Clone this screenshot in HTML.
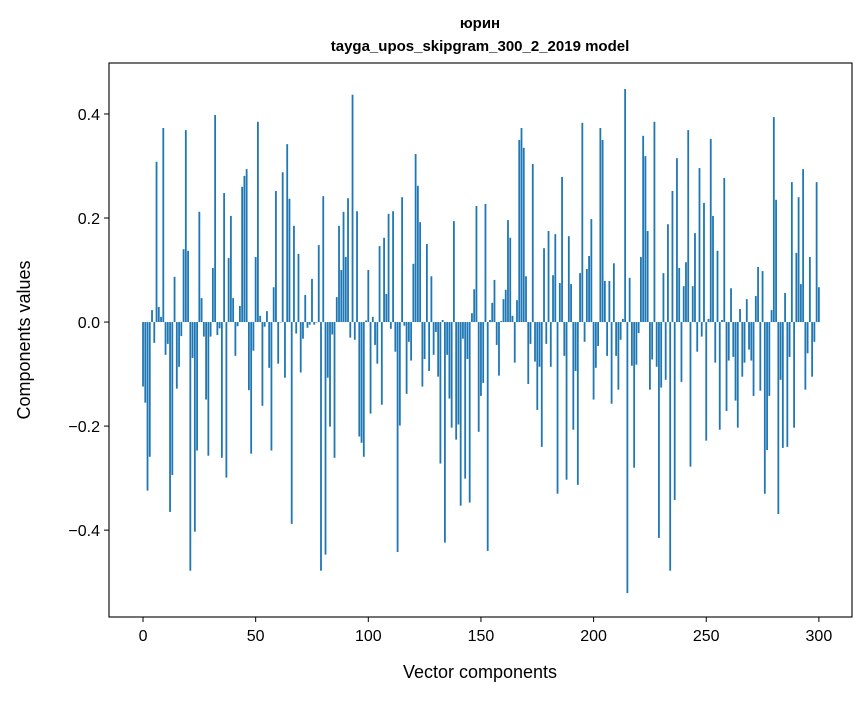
<!DOCTYPE html>
<html><head><meta charset="utf-8"><style>
body{margin:0;background:#fff;}
svg text{font-family:"Liberation Sans","DejaVu Sans",sans-serif;}
</style></head><body>
<svg id="chart" width="867" height="696" viewBox="0 0 867 696" xmlns="http://www.w3.org/2000/svg">
<rect x="0" y="0" width="867" height="696" fill="#fff"/>
<text x="480" y="28" text-anchor="middle" font-size="15" font-weight="bold">юрин</text>
<text x="480" y="51" text-anchor="middle" font-size="15" font-weight="bold">tayga_upos_skipgram_300_2_2019 model</text>
<g id="bars"></g>
<g id="axes"></g>
<text x="480" y="678" text-anchor="middle" font-size="18">Vector components</text>
<text x="30" y="340" text-anchor="middle" font-size="18" transform="rotate(-90 30 340)">Components values</text>
</svg>
<script>
const values = [
-0.124,-0.155,-0.324,-0.259,0.023,-0.04,0.308,0.029,0.01,0.373,-0.063,-0.042,-0.365,-0.294,0.087,-0.128,-0.086,-0.027,0.14,0.369,0.137,-0.478,-0.069,-0.403,-0.247,0.212,0.046,-0.028,-0.149,-0.257,-0.028,0.104,0.398,-0.025,-0.012,-0.261,0.248,-0.299,0.123,0.204,0.046,-0.065,-0.008,0.031,0.26,0.281,0.294,-0.131,-0.253,-0.055,0.125,
0.385,0.012,-0.161,-0.009,0.021,-0.088,-0.247,0.067,0.252,-0.08,-0.001,0.288,-0.107,0.342,0.237,-0.388,0.185,-0.022,0.131,-0.097,-0.032,0.052,-0.011,-0.005,0.083,-0.005,-0.001,0.148,-0.478,0.242,-0.447,-0.107,-0.201,-0.024,-0.261,0.048,0.185,0.1,0.212,0.125,0.238,-0.03,0.437,-0.034,0.213,-0.22,-0.232,-0.259,
0.003,0.1,-0.176,0.01,-0.044,-0.08,0.146,-0.159,0.162,0.054,0.208,-0.013,0.213,-0.057,-0.442,-0.199,0.24,-0.007,-0.138,-0.038,-0.074,0.112,0.323,0.262,0.192,-0.124,-0.071,0.15,-0.094,0.088,-0.063,-0.019,-0.105,-0.272,0.004,-0.424,-0.063,-0.147,-0.203,0.194,-0.226,-0.197,-0.353,-0.032,-0.301,-0.071,-0.347,0.017,0.063,0.223,
-0.211,-0.142,-0.117,0.227,-0.44,0.004,0.037,0.081,-0.044,-0.103,0.002,0.044,0.062,0.196,0.162,0.012,-0.078,0.042,0.35,0.373,0.335,0.088,-0.119,-0.042,0.304,-0.076,-0.169,-0.086,-0.24,0.142,-0.042,0.175,-0.086,0.09,0.169,-0.33,0.075,0.279,-0.065,-0.303,0.165,0.073,-0.207,-0.094,-0.313,0.094,0.383,-0.038,
0.102,0.127,0.198,-0.149,-0.088,-0.046,0.373,0.35,0.079,-0.065,0.079,-0.157,0.113,-0.065,-0.13,-0.034,0.006,0.448,-0.521,0.085,-0.084,-0.28,-0.082,-0.021,0.125,0.358,0.319,0.175,-0.13,-0.072,0.385,-0.086,-0.415,-0.126,0.094,-0.111,0.188,-0.478,0.252,-0.342,0.315,0.104,-0.115,0.069,0.115,0.369,-0.278,0.069,0.171,
-0.057,0.296,-0.028,0.229,-0.228,0.006,0.352,0.204,-0.078,0.137,-0.207,0.004,0.277,-0.171,-0.074,0.065,-0.067,-0.151,-0.203,0.025,-0.105,-0.078,0.044,-0.053,-0.074,-0.142,0.05,0.106,-0.132,0.098,-0.33,-0.246,-0.142,0.023,0.394,0.235,-0.369,-0.111,-0.242,0.056,-0.24,-0.067,0.269,-0.203,0.133,0.24,0.073,0.294,-0.13,-0.06,0.125,-0.105,-0.038,0.269,0.067
];
const xTicks = [0,50,100,150,200,250,300];
const yTicks = [-0.4,-0.2,0.0,0.2,0.4];
const yTickLabels = ["\u22120.4","\u22120.2","0.0","0.2","0.4"];

const L=109,R=852,T=63,B=617;
const x0=-15.1,x1=314.7,y0=-0.567,y1=0.498;
function sx(v){return L+(v-x0)/(x1-x0)*(R-L);}
function sy(v){return B-(v-y0)/(y1-y0)*(B-T);}
const NS="http://www.w3.org/2000/svg";
const bars=document.getElementById('bars');
const bw=(sx(0.8)-sx(0));
values.forEach((v,i)=>{
  const r=document.createElementNS(NS,'rect');
  const ya=sy(Math.max(v,0)), yb=sy(Math.min(v,0));
  r.setAttribute('x',sx(i)-bw/2);
  r.setAttribute('y',ya);
  r.setAttribute('width',bw);
  r.setAttribute('height',Math.max(yb-ya,0.3));
  r.setAttribute('fill','#1f77b4');
  
  
  bars.appendChild(r);
});
const axes=document.getElementById('axes');
const frame=document.createElementNS(NS,'rect');
frame.setAttribute('x',L);frame.setAttribute('y',T);
frame.setAttribute('width',R-L);frame.setAttribute('height',B-T);
frame.setAttribute('fill','none');frame.setAttribute('stroke','#000');frame.setAttribute('stroke-width','1.1');


axes.appendChild(frame);
xTicks.forEach(t=>{
  const l=document.createElementNS(NS,'line');
  l.setAttribute('x1',sx(t));l.setAttribute('x2',sx(t));l.setAttribute('y1',B);l.setAttribute('y2',B+5);
  l.setAttribute('stroke','#000');
  
  
  axes.appendChild(l);
  const tx=document.createElementNS(NS,'text');
  tx.setAttribute('x',sx(t));tx.setAttribute('y',B+24);tx.setAttribute('text-anchor','middle');tx.setAttribute('font-size','16');
  tx.textContent=String(t);
  
  
  axes.appendChild(tx);
});
yTicks.forEach((t,i)=>{
  const l=document.createElementNS(NS,'line');
  l.setAttribute('x1',L-5);l.setAttribute('x2',L);l.setAttribute('y1',sy(t));l.setAttribute('y2',sy(t));
  l.setAttribute('stroke','#000');
  
  
  axes.appendChild(l);
  const tx=document.createElementNS(NS,'text');
  tx.setAttribute('x',L-9);tx.setAttribute('y',sy(t)+6);tx.setAttribute('text-anchor','end');tx.setAttribute('font-size','16');
  tx.textContent=yTickLabels[i];
  
  
  axes.appendChild(tx);
});
</script>
</body></html>
